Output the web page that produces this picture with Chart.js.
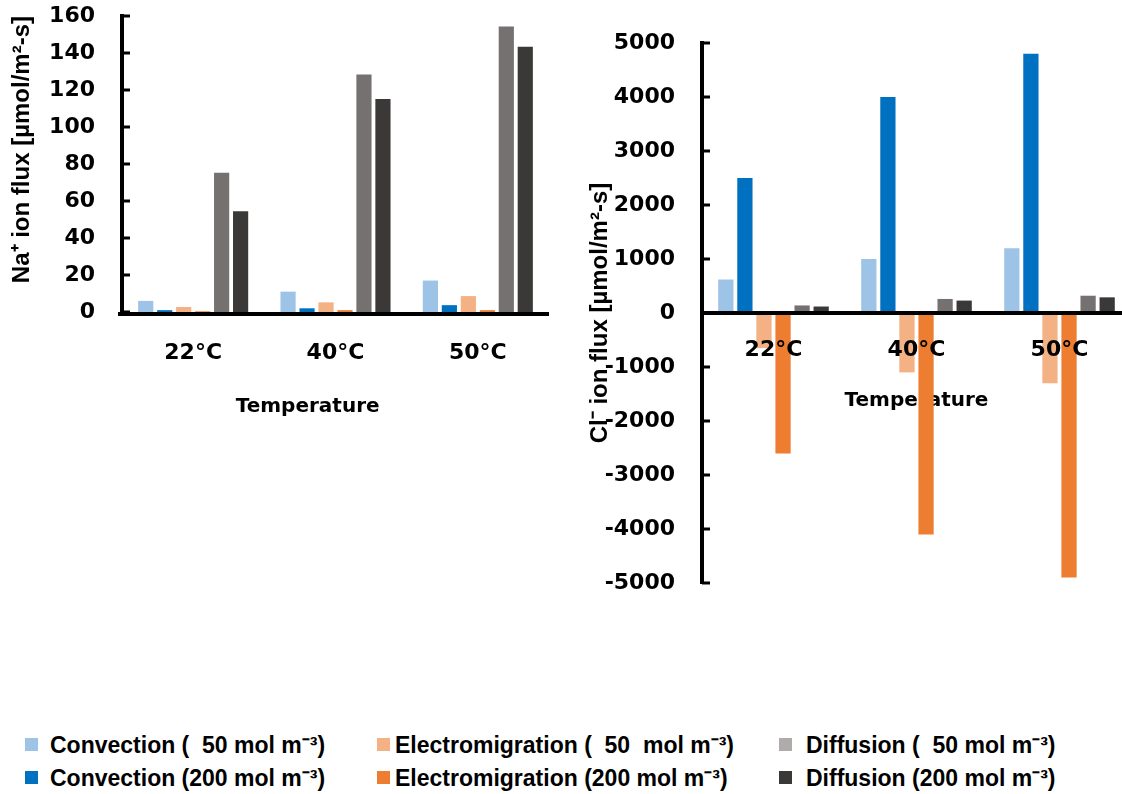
<!DOCTYPE html>
<html>
<head>
<meta charset="utf-8">
<script src="https://cdn.jsdelivr.net/npm/chart.js@4.4.0/dist/chart.umd.min.js"></script>
<style>
  html, body { margin: 0; padding: 0; background: #fff; overflow: hidden; width: 1122px; height: 794px; }
  canvas { position: absolute; top: 0; }
  #naChart { left: 0; }
  #clChart { left: 560px; }
  .lg-text { position: absolute; font: bold 23px 'Liberation Sans', Arial, sans-serif; color: #000; white-space: pre; line-height: 28px; }
  .lg-box { position: absolute; width: 13px; height: 13px; }
</style>
</head>
<body>
<canvas id="naChart" width="560" height="440"></canvas>
<canvas id="clChart" width="580" height="600"></canvas>
<div id="legend"></div>
<script>
// temperatures on the x axis
var temps = ['22°C', '40°C', '50°C'];

// Na+ flux, µmol/m2-s
var naConv50 = [6, 11, 17];
var naConv200 = [1, 2, 3.7];
var naElec50 = [2.7, 5.2, 8.6];
var naElec200 = [0.4, 1, 1];
var naDiff50 = [75.3, 128.4, 154.3];
var naDiff200 = [54.5, 115.2, 143.4];

// Cl- flux, µmol/m2-s
var clConv50 = [620, 1000, 1200];
var clConv200 = [2500, 4000, 4800];
var clElec50 = [-650, -1100, -1300];
var clElec200 = [-2600, -4100, -4900];
var clDiff50 = [140, 260, 320];
var clDiff200 = [120, 230, 290];

var seriesNames = [
  'Convection (  50 mol m\u207B\u00B3)',
  'Convection (200 mol m\u207B\u00B3)',
  'Electromigration (  50  mol m\u207B\u00B3)',
  'Electromigration (200 mol m\u207B\u00B3)',
  'Diffusion (  50 mol m\u207B\u00B3)',
  'Diffusion (200 mol m\u207B\u00B3)'
];
var barColors = ['#9DC3E6', '#0070C0', '#F4B183', '#ED7D31', '#767171', '#3B3838'];
var legendColors = ['#9DC3E6', '#0070C0', '#F4B183', '#ED7D31', '#AFABAB', '#3B3838'];

var tickFont = { family: 'DejaVu Sans', weight: 'bold', size: 22 };
var axisTitleFont = { family: 'DejaVu Sans', weight: 'bold', size: 20 };
var fluxTitleFont = { family: 'Liberation Sans', weight: 'bold', size: 24 };

function makeSets(lists) {
  return lists.map(function (vals, i) {
    return {
      label: seriesNames[i],
      data: vals,
      backgroundColor: barColors[i],
      borderWidth: 0,
      barPercentage: 0.8,
      categoryPercentage: 0.8
    };
  });
}

function plain(v) { return String(v); }

// short tick marks on the inner side of the value axis,
// plus (optionally) a base line drawn just under the zero level
var innerTicks = {
  id: 'innerTicks',
  afterDraw: function (chart, args, opts) {
    var y = chart.scales.y, ctx = chart.ctx, area = chart.chartArea, x0 = area.left;
    ctx.save();
    ctx.strokeStyle = '#000';
    ctx.lineWidth = 3;
    y.ticks.forEach(function (t, i) {
      var py = y.getPixelForTick(i);
      ctx.beginPath();
      ctx.moveTo(x0, py);
      ctx.lineTo(x0 + 8, py);
      ctx.stroke();
    });
    if (opts.baseLine) {
      var y0 = y.getPixelForValue(0);
      ctx.lineWidth = 4;
      ctx.beginPath();
      ctx.moveTo(x0 - 4, y0 + 2);
      ctx.lineTo(area.right, y0 + 2);
      ctx.stroke();
    }
    ctx.restore();
  }
};

new Chart(document.getElementById('naChart'), {
  type: 'bar',
  data: {
    labels: temps,
    datasets: makeSets([naConv50, naConv200, naElec50, naElec200, naDiff50, naDiff200])
  },
  options: {
    responsive: false,
    animation: false,
    layout: { padding: { top: 16, right: 11, bottom: 0, left: 0 } },
    plugins: { legend: { display: false }, tooltip: { enabled: false }, innerTicks: { baseLine: true } },
    scales: {
      x: {
        grid: { display: false, drawTicks: false },
        border: { display: false },
        ticks: { color: '#000', font: tickFont, padding: 28, z: 1 },
        // trailing blanks pull the centred title a little to the left
        title: { display: true, text: 'Temperature        ', color: '#000', font: axisTitleFont, padding: { top: 0, bottom: 21 } },
        afterFit: function (s) { s.height = 128; s.paddingLeft = 0; s.paddingRight = 0; }
      },
      y: {
        min: 0, max: 160,
        grid: { display: false, drawTicks: false },
        border: { color: '#000', width: 4, z: 1 },
        ticks: { stepSize: 20, color: '#000', font: tickFont, padding: 27, callback: plain },
        title: {
          display: true, align: 'end', color: '#000',
          text: 'Na\u207A ion flux [\u00B5mol/m\u00B2-s]',
          font: fluxTitleFont,
          padding: { top: 8, bottom: 0 }
        },
        afterFit: function (s) { s.width = 122; s.paddingTop = 0; s.paddingBottom = 0; }
      }
    }
  },
  plugins: [innerTicks]
});

new Chart(document.getElementById('clChart'), {
  type: 'bar',
  data: {
    labels: temps,
    datasets: makeSets([clConv50, clConv200, clElec50, clElec200, clDiff50, clDiff200])
  },
  options: {
    responsive: false,
    animation: false,
    layout: { padding: { top: 43, right: 9, bottom: 17, left: 0 } },
    plugins: { legend: { display: false }, tooltip: { enabled: false }, innerTicks: { baseLine: false } },
    scales: {
      x: {
        position: { y: 0 },
        grid: { display: false, drawTicks: false },
        border: { color: '#000', width: 4, z: 1 },
        ticks: { color: '#000', font: tickFont, padding: 24, z: 1 },
        title: { display: true, text: 'Temperature', color: '#000', font: axisTitleFont, padding: 0 },
        afterFit: function (s) { s.height = 100; s.paddingLeft = 0; s.paddingRight = 0; }
      },
      y: {
        min: -5000, max: 5000,
        grid: { display: false, drawTicks: false },
        border: { color: '#000', width: 4, z: 1 },
        ticks: { stepSize: 1000, color: '#000', font: tickFont, padding: 27, callback: plain },
        title: {
          display: true, color: '#000',
          text: 'Cl\u207B ion flux [\u00B5mol/m\u00B2-s]',
          font: fluxTitleFont,
          padding: { top: 26, bottom: 0 }
        },
        afterFit: function (s) { s.width = 142; s.paddingTop = 0; s.paddingBottom = 0; }
      }
    }
  },
  plugins: [innerTicks]
});

// shared legend below both charts, three columns of two rows
var boxX = [25, 377, 779];
var textX = [50, 395, 806];
var rowY = [745, 778];
var legend = document.getElementById('legend');
seriesNames.forEach(function (name, i) {
  var col = Math.floor(i / 2), row = i % 2;
  var box = document.createElement('div');
  box.className = 'lg-box';
  box.style.left = boxX[col] + 'px';
  box.style.top = (rowY[row] - 7) + 'px';
  box.style.background = legendColors[i];
  legend.appendChild(box);
  var txt = document.createElement('div');
  txt.className = 'lg-text';
  txt.style.left = textX[col] + 'px';
  txt.style.top = (rowY[row] - 14) + 'px';
  txt.textContent = name;
  legend.appendChild(txt);
});
</script>
</body>
</html>
